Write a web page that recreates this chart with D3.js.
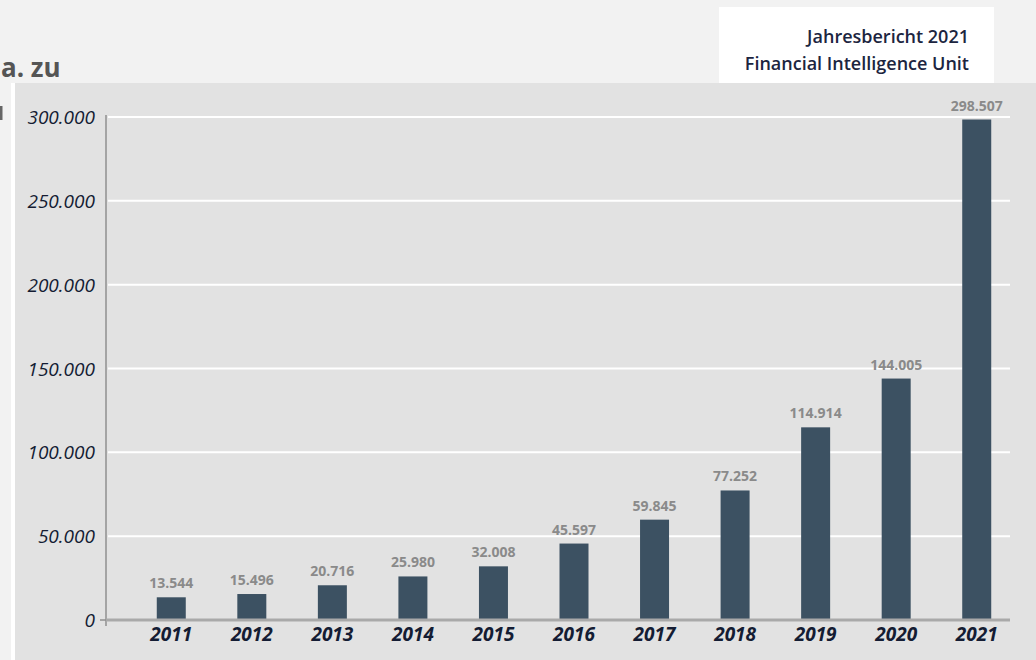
<!DOCTYPE html>
<html><head><meta charset="utf-8">
<script src="https://cdn.jsdelivr.net/npm/d3@7"></script>
<style>
html,body{margin:0;padding:0;background:#f2f2f2;}
svg{display:block;}
</style></head>
<body>
<svg id="c" width="1036" height="660"></svg>
<script>
const years = ["2011","2012","2013","2014","2015","2016","2017","2018","2019","2020","2021"];
const values = [13544,15496,20716,25980,32008,45597,59845,77252,114914,144005,298507];
const yTicks = [0,50000,100000,150000,200000,250000,300000];
const headerLines = ["Jahresbericht 2021","Financial Intelligence Unit"];

const svg = d3.select("#c");
const fmt = v => d3.format(",")(v).replace(/,/g, ".");

svg.append("rect").attr("x",0).attr("y",0).attr("width",1036).attr("height",660).attr("fill","#f2f2f2");
// cropped surrounding text
svg.append("text").attr("x",1).attr("y",77).attr("font-family","Open Sans").attr("font-weight",700)
  .attr("font-size",26).attr("fill","#555").text("a. zu");
svg.append("rect").attr("x",0).attr("y",106).attr("width",2.5).attr("height",14).attr("fill","#666");

// white strip + panel
svg.append("rect").attr("x",11).attr("y",83).attr("width",4).attr("height",577).attr("fill","#ffffff");
svg.append("rect").attr("x",15).attr("y",83).attr("width",1021).attr("height",577).attr("fill","#e2e2e2");

// header box
svg.append("rect").attr("x",719).attr("y",7).attr("width",275).attr("height",76).attr("fill","#ffffff");
svg.selectAll("text.hdr").data(headerLines).join("text").attr("class","hdr")
  .attr("x",969).attr("y",(d,i)=>43+i*27).attr("text-anchor","end")
  .attr("font-family","Open Sans").attr("font-weight",600).attr("font-size",18)
  .attr("fill","#1c2540").text(d=>d);

const y = d3.scaleLinear().domain([0,300000]).range([620,117]);
const x = d3.scaleBand().domain(years).range([131,1017]).paddingInner(0.64).paddingOuter(0.32);

// gridlines
svg.append("g").selectAll("line").data(yTicks.filter(t=>t>0)).join("line")
  .attr("x1",108).attr("x2",1010).attr("y1",d=>y(d)).attr("y2",d=>y(d))
  .attr("stroke","#ffffff").attr("stroke-width",2);

// y axis
const yAxis = svg.append("g").attr("transform","translate(106,0)")
  .call(d3.axisLeft(y).tickValues(yTicks).tickFormat(fmt).tickSize(0).tickPadding(11));
yAxis.select(".domain").remove();
yAxis.selectAll("text").attr("font-family","Open Sans").attr("font-style","italic")
  .attr("font-size",19).attr("fill","#141c33").attr("dy","0.35em");
svg.append("line").attr("x1",106).attr("x2",106).attr("y1",115).attr("y2",626)
  .attr("stroke","#8f8f8f").attr("stroke-width",1.5);
svg.append("line").attr("x1",100).attr("x2",106).attr("y1",620).attr("y2",620)
  .attr("stroke","#8f8f8f").attr("stroke-width",1.5);

// bars
svg.append("g").selectAll("rect").data(years).join("rect")
  .attr("x",d=>x(d)).attr("width",x.bandwidth())
  .attr("y",(d,i)=>y(values[i])).attr("height",(d,i)=>y(0)-y(values[i]))
  .attr("fill","#3c5162");

// baseline
svg.append("line").attr("x1",106).attr("x2",1010).attr("y1",620).attr("y2",620)
  .attr("stroke","#a9a9a9").attr("stroke-width",3);

// value labels
svg.append("g").selectAll("text").data(years).join("text")
  .attr("x",d=>x(d)+x.bandwidth()/2).attr("y",(d,i)=>y(values[i])-9)
  .attr("text-anchor","middle").attr("font-family","Open Sans").attr("font-weight",700)
  .attr("font-size",14).attr("fill","#8a8a8a").text((d,i)=>fmt(values[i]));

// x axis labels
const xAxis = svg.append("g").attr("transform","translate(0,622)")
  .call(d3.axisBottom(x).tickSize(0).tickPadding(5));
xAxis.select(".domain").remove();
xAxis.selectAll("text").attr("font-family","Open Sans").attr("font-style","italic").attr("font-weight",700)
  .attr("font-size",19).attr("fill","#141c33");
</script>
</body></html>
